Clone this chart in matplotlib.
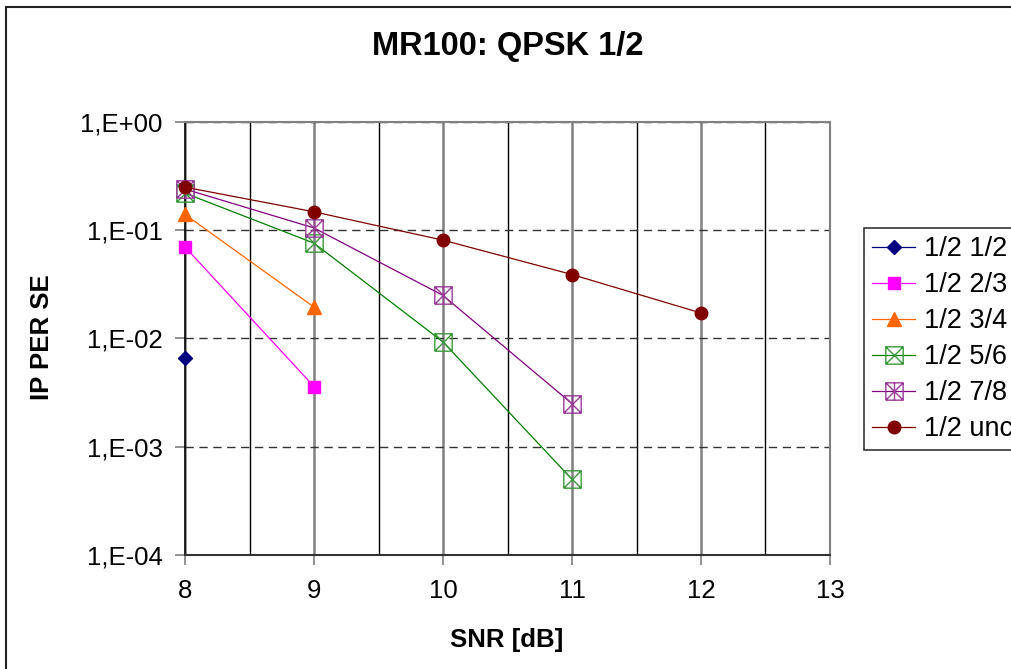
import matplotlib
matplotlib.use('Agg')
import matplotlib.pyplot as plt
from matplotlib.path import Path
from matplotlib.patches import Rectangle
import matplotlib.ticker as mt

plt.rcParams['font.family'] = ['Liberation Sans', 'DejaVu Sans']

# ---- data ----
title = "MR100: QPSK 1/2"
xlabel = "SNR [dB]"
ylabel = "IP PER SE"

x_12 = [8]
y_12 = [6.6e-3]
x_23 = [8, 9]
y_23 = [0.070, 3.6e-3]
x_34 = [8, 9]
y_34 = [0.140, 0.0195]
x_56 = [8, 9, 10, 11]
y_56 = [0.22, 0.076, 0.0093, 5.0e-4]
x_78 = [8, 9, 10, 11]
y_78 = [0.24, 0.105, 0.025, 2.5e-3]
x_unc = [8, 9, 10, 11, 12]
y_unc = [0.25, 0.148, 0.081, 0.039, 0.0172]

labels = ["1/2 1/2", "1/2 2/3", "1/2 3/4", "1/2 5/6", "1/2 7/8", "1/2 unc"]
xticks = [8, 9, 10, 11, 12, 13]
yticks = [1e-4, 1e-3, 1e-2, 1e-1, 1e0]
yticklabels = ["1,E-04", "1,E-03", "1,E-02", "1,E-01", "1,E+00"]

# ---- markers ----
M, L = Path.MOVETO, Path.LINETO
sqx = Path([(-1, -1), (1, -1), (1, 1), (-1, 1), (-1, -1),
            (-1, -1), (1, 1), (-1, 1), (1, -1)],
           [M, L, L, L, L, M, L, M, L])
sqast = Path([(-1, -1), (1, -1), (1, 1), (-1, 1), (-1, -1),
              (-1, -1), (1, 1), (-1, 1), (1, -1), (0, -1), (0, 1)],
             [M, L, L, L, L, M, L, M, L, M, L])

W, H = 1012, 669
fig = plt.figure(figsize=(W / 100, H / 100), dpi=100)
ax = fig.add_axes([185 / W, 1 - 555 / H, 645 / W, 433 / H])

lw = 0.9
h1, = ax.plot(x_12, y_12, color='#000080', lw=lw, marker='D', ms=6.8,
              mec='#000080', mfc='#000080', clip_on=False, zorder=5)
h2, = ax.plot(x_23, y_23, color='#FF00FF', lw=lw, marker='s', ms=9,
              mec='#FF00FF', mfc='#FF00FF', clip_on=False, zorder=5)
h3, = ax.plot(x_34, y_34, color='#FF6600', lw=lw, marker='^', ms=10.5,
              mec='#FF6600', mfc='#FF6600', clip_on=False, zorder=5)
h4, = ax.plot(x_56, y_56, color='#008000', lw=lw, marker=sqx, ms=12.5,
              mec='#3a9a3a', mfc='none', mew=1.0, clip_on=False, zorder=5)
h5, = ax.plot(x_78, y_78, color='#800080', lw=lw, marker=sqast, ms=12.5,
              mec='#9a3a9a', mfc='none', mew=1.0, clip_on=False, zorder=5)
h6, = ax.plot(x_unc, y_unc, color='#800000', lw=lw, marker='o', ms=9,
              mec='#800000', mfc='#800000', clip_on=False, zorder=5)

ax.set_yscale('log')
ax.set_xlim(8, 13)
ax.set_ylim(1e-4, 1)
ax.set_xticks(xticks)
ax.set_xticklabels([str(v) for v in xticks])
ax.xaxis.set_minor_locator(mt.MultipleLocator(0.5))
ax.set_yticks(yticks)
ax.set_yticklabels(yticklabels)
ax.yaxis.set_minor_locator(mt.NullLocator())

ax.grid(axis='x', which='major', color='#808080', lw=1.8, ls='-')
ax.grid(axis='x', which='minor', color='black', lw=1.0, ls='-')
ax.grid(axis='y', which='major', color='#333333', lw=1.0, ls=(0, (6, 4)))
ax.set_axisbelow(True)

ax.tick_params(axis='x', which='major', direction='out', length=7, width=1.2,
               color='#808080', labelsize=18.5, pad=10)
ax.tick_params(axis='x', which='minor', length=0)
ax.tick_params(axis='y', which='major', direction='out', length=7, width=1.2,
               color='#808080', labelsize=18.5, pad=9)

for s in ['top', 'right']:
    ax.spines[s].set_color('#808080')
    ax.spines[s].set_linewidth(1.5)
ax.spines['left'].set_color('black')
ax.spines['left'].set_linewidth(1.2)
ax.spines['bottom'].set_color('#333333')
ax.spines['bottom'].set_linewidth(1.5)

fig.text(508 / W, 1 - 46 / H, title, ha='center', va='center',
         fontsize=23.5, fontweight='bold')
fig.text(507 / W, 1 - 640 / H, xlabel, ha='center', va='center',
         fontsize=18.5, fontweight='bold')
fig.text(42 / W, 1 - 337 / H, ylabel, ha='center', va='center',
         fontsize=18.5, fontweight='bold', rotation=90)

leg = fig.legend([h1, h2, h3, h4, h5, h6], labels, loc='upper left',
                 bbox_to_anchor=(864 / W, 1 - 228 / H), fontsize=19.5,
                 frameon=True, fancybox=False, edgecolor='black',
                 handlelength=1.6, handletextpad=0.3, borderpad=0.3,
                 labelspacing=0.37, borderaxespad=0, numpoints=1)
leg.get_frame().set_linewidth(1.2)

fig.patches.append(Rectangle((6 / W, -0.5), 2, 1.5 - 7 / H + 0.0,
                             transform=fig.transFigure, fill=False,
                             edgecolor='#222222', lw=1.5))

fig.savefig('out.png', dpi=100)
